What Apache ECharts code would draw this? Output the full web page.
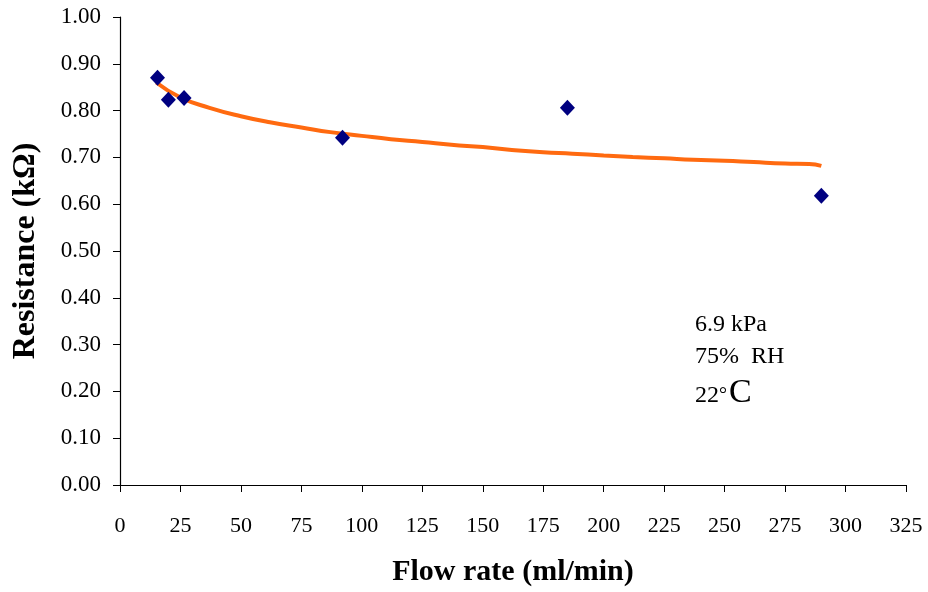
<!DOCTYPE html>
<html>
<head>
<meta charset="utf-8">
<script src="https://cdn.jsdelivr.net/npm/echarts@6/dist/echarts.min.js"></script>
<style>
  html, body { margin: 0; padding: 0; background: #fff; }
  #chart { width: 928px; height: 592px; }
</style>
</head>
<body>
<div id="chart"></div>
<script>
// measured points (flow rate, resistance)
const flowPts = [15.5, 20, 26.5, 92, 185, 290];
const resPts = [0.870, 0.823, 0.827, 0.742, 0.806, 0.618];

// trend line
const trendFlow = [15, 25, 37, 50, 62, 75, 87, 100, 112, 125, 137, 150, 162, 175, 187, 200, 212, 225, 237, 250, 262, 275, 285, 290];
const trendRes = [0.860, 0.828, 0.806, 0.788, 0.775, 0.764, 0.754, 0.746, 0.739, 0.733, 0.727, 0.722, 0.716, 0.711, 0.708, 0.704, 0.701, 0.698, 0.695, 0.693, 0.690, 0.687, 0.686, 0.682];

const xTicks = { min: 0, max: 325, interval: 25 };
const yTicks = { min: 0, max: 1, interval: 0.1 };

const serif = '"Liberation Serif", "DejaVu Serif", serif';

let chart = echarts.init(document.getElementById('chart'), null, { renderer: 'canvas' });

chart.setOption({
    animation: false,
    backgroundColor: '#ffffff',
    grid: {
        left: 120,
        right: 22,
        top: 17,
        bottom: 104
    },
    xAxis: {
        type: 'value',
        min: xTicks.min,
        max: xTicks.max,
        interval: xTicks.interval,
        name: 'Flow rate (ml/min)',
        nameLocation: 'middle',
        nameGap: 72,
        nameTextStyle: {
            fontFamily: serif,
            fontWeight: 'bold',
            fontSize: 30,
            color: '#000'
        },
        axisLine: { show: true, onZero: false, lineStyle: { color: '#000', width: 1.2 } },
        axisTick: { show: true, inside: false, length: 7, lineStyle: { color: '#000' } },
        axisLabel: {
            margin: 30,
            fontFamily: serif,
            fontSize: 22,
            color: '#000'
        },
        splitLine: { show: false }
    },
    yAxis: {
        type: 'value',
        min: yTicks.min,
        max: yTicks.max,
        interval: yTicks.interval,
        name: 'Resistance (kΩ)',
        nameLocation: 'middle',
        nameGap: 78,
        nameRotate: 90,
        nameTextStyle: {
            fontFamily: serif,
            fontWeight: 'bold',
            fontSize: 32,
            color: '#000'
        },
        axisLine: { show: true, onZero: false, lineStyle: { color: '#000', width: 1.2 } },
        axisTick: { show: true, inside: false, length: 7, lineStyle: { color: '#000' } },
        axisLabel: {
            margin: 19,
            fontFamily: serif,
            fontSize: 23,
            color: '#000',
            formatter: (v) => v.toFixed(2)
        },
        splitLine: { show: false }
    },
    series: [{
        name: 'Trend',
        type: 'line',
        data: trendFlow.map((x, i) => [x, trendRes[i]]),
        showSymbol: false,
        smooth: true,
        lineStyle: { color: '#ff6a10', width: 4 },
        z: 2
    }, {
        name: 'Measured',
        type: 'scatter',
        data: flowPts.map((x, i) => [x, resPts[i]]),
        symbol: 'diamond',
        symbolSize: [15, 16],
        itemStyle: { color: '#000080', opacity: 1 },
        z: 3
    }],
    graphic: [{
        type: 'text',
        left: 695,
        top: 313,
        style: {
            text: '6.9 kPa',
            font: '24px ' + serif,
            fill: '#000'
        }
    }, {
        type: 'text',
        left: 695,
        top: 345,
        style: {
            text: '75%  RH',
            font: '24px ' + serif,
            fill: '#000'
        }
    }, {
        type: 'text',
        left: 695,
        top: 376,
        style: {
            text: '{a|22}{d|°}{c|C}',
            rich: {
                a: { fontFamily: serif, fontSize: 24, fill: '#000', verticalAlign: 'bottom', padding: [0, 0, 2, 0] },
                d: { fontFamily: serif, fontSize: 20, fill: '#000', verticalAlign: 'bottom', padding: [0, 2, 4, 0] },
                c: { fontFamily: serif, fontSize: 34, fill: '#000', verticalAlign: 'bottom' }
            }
        }
    }]
});
</script>
</body>
</html>
